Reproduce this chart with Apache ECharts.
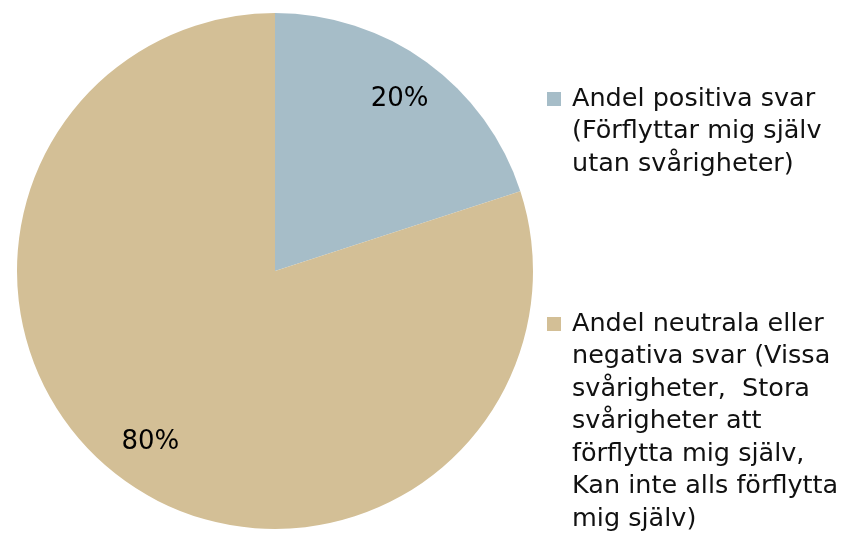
<!DOCTYPE html>
<html>
<head>
<meta charset="utf-8">
<script src="https://cdn.jsdelivr.net/npm/echarts@6/dist/echarts.min.js"></script>
<style>
  html, body { margin: 0; padding: 0; background: #fff; }
  #chart { width: 844px; height: 547px; }
</style>
</head>
<body>
<div id="chart"></div>
<script>
// svarsandelar
const categories = [
  'Andel positiva svar\n(Förflyttar mig själv\nutan svårigheter)',
  'Andel neutrala eller\nnegativa svar (Vissa\nsvårigheter,  Stora\nsvårigheter att\nförflytta mig själv,\nKan inte alls förflytta\nmig själv)'
];
const values = [20, 80];
const colors = ['#A6BDC8', '#D3BF96'];

const font = 'DejaVu Sans';
const lineH = 32.5;

const chart = echarts.init(document.getElementById('chart'));

const pieData = categories.map((name, i) => ({
  name: name,
  value: values[i],
  itemStyle: { color: colors[i] }
}));

// legend text is centred on the icon -> add blank lines above so line 1 sits by the icon
function legendFor(i, iconTop) {
  const n = categories[i].split('\n').length;
  const blockTop = 7 - (2 * n - 1) * lineH / 2;
  return {
    data: [categories[i]],
    left: 547,
    top: iconTop + blockTop,
    padding: 0,
    orient: 'vertical',
    itemWidth: 14,
    itemHeight: 14,
    icon: 'rect',
    selectedMode: false,
    formatter: name => '\u00a0\n'.repeat(n - 1) + name,
    textStyle: {
      fontFamily: font,
      fontSize: 25.5,
      color: '#111',
      lineHeight: lineH,
      padding: [0, 0, 0, 6]
    }
  };
}

chart.setOption({
  animation: false,
  legend: [legendFor(0, 92), legendFor(1, 317)],
  series: [
    {
      type: 'pie',
      center: [275, 271],
      radius: [0, 258],
      startAngle: 90,
      clockwise: true,
      silent: true,
      label: { show: false },
      labelLine: { show: false },
      data: pieData
    },
    {
      // bara för etiketterna
      type: 'pie',
      center: [275, 271],
      radius: [160, 258],
      startAngle: 90,
      clockwise: true,
      silent: true,
      legendHoverLink: false,
      itemStyle: { color: 'rgba(0,0,0,0)' },
      label: {
        show: true,
        position: 'inside',
        formatter: '{c}%',
        fontFamily: font,
        fontSize: 26,
        color: '#000'
      },
      labelLine: { show: false },
      data: categories.map((name, i) => ({ name: name + ' ', value: values[i] }))
    }
  ]
});
</script>
</body>
</html>
